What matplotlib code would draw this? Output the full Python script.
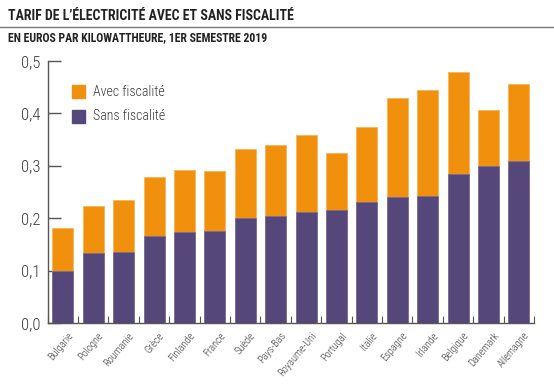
import numpy as np
import matplotlib
matplotlib.use("Agg")
import matplotlib.pyplot as plt
from matplotlib.patches import Rectangle
from matplotlib.lines import Line2D
from matplotlib import font_manager

# Data
pays = ["Bulgarie", "Pologne", "Roumanie", "Grèce", "Finlande", "France", "Suède",
        "Pays-Bas", "Royaume-Uni", "Portugal", "Italie", "Espagne", "Irlande",
        "Belgique", "Danemark", "Allemagne"]
avec_fiscalite = [0.182, 0.223, 0.235, 0.279, 0.291, 0.289, 0.331, 0.340, 0.358,
                  0.325, 0.373, 0.430, 0.445, 0.479, 0.407, 0.456]
sans_fiscalite = [0.100, 0.134, 0.136, 0.166, 0.173, 0.176, 0.201, 0.205, 0.212,
                  0.215, 0.230, 0.241, 0.243, 0.284, 0.299, 0.309]
yticks = [0.0, 0.1, 0.2, 0.3, 0.4, 0.5]

orange = "#F0900C"
violet = "#55477A"
grey = "#3a3a3a"

# a condensed face, as close to the original as what is installed
names = {f.name for f in font_manager.fontManager.ttflist}
candidates = ["Roboto Condensed", "Barlow Semi Condensed", "Fira Sans Condensed",
              "Encode Sans Condensed", "Liberation Sans Narrow", "Archivo Narrow",
              "PT Sans Narrow", "Open Sans Condensed", "DejaVu Sans"]
narrow = next(c for c in candidates if c in names)

fig = plt.figure(figsize=(5.54, 3.85), dpi=100)
ax = fig.add_axes([0.086, 0.161, 0.878, 0.681])

x = np.arange(len(pays))
ax.bar(x, avec_fiscalite, width=0.69, color=orange, edgecolor="#F6B45A", linewidth=0.6, zorder=2)
ax.bar(x, sans_fiscalite, width=0.69, color=violet, edgecolor="#7A6E98", linewidth=0.6, zorder=3)

ax.set_xlim(-0.5, len(pays) - 0.5)
ax.set_ylim(0, 0.5)
for s in ["top", "right"]:
    ax.spines[s].set_visible(False)
for s in ["left", "bottom"]:
    ax.spines[s].set_color("#555555")
    ax.spines[s].set_linewidth(1.0)

ax.set_yticks(yticks)
ax.set_yticklabels([f"{v:.1f}".replace(".", ",") for v in yticks],
                   fontsize=12, color=grey, family=narrow, weight="light")
ax.tick_params(axis="y", direction="in", length=9, width=1, color="#555555", pad=5)

ax.set_xticks(np.arange(len(pays) + 1) - 0.5)
ax.set_xticklabels([])
ax.tick_params(axis="x", direction="in", length=5, width=0.8, color="#555555")
for xi, name in zip(x, pays):
    ax.text(xi + 0.15, -0.014, name, rotation=50, ha="right", va="top",
            rotation_mode="anchor", fontsize=7.5, color=grey, family=narrow,
            weight="light", transform=ax.transData, clip_on=False)

# Legend
fig.patches.append(Rectangle((72 / 554, 1 - 98 / 385), 13 / 554, 13 / 385,
                             transform=fig.transFigure, color=orange))
fig.patches.append(Rectangle((72 / 554, 1 - 123 / 385), 13 / 554, 13 / 385,
                             transform=fig.transFigure, color=violet))
fig.text(93 / 554, 1 - 91.5 / 385, "Avec fiscalité", fontsize=10, color=grey,
         family=narrow, weight="light", va="center")
fig.text(93 / 554, 1 - 116.5 / 385, "Sans fiscalité", fontsize=10, color=grey,
         family=narrow, weight="light", va="center")

# Title block, widths fitted to the original
title = fig.text(8 / 554, 1 - 16 / 385, "TARIF DE L’ÉLECTRICITÉ AVEC ET SANS FISCALITÉ",
                 fontsize=12, color="#222222", family=narrow, weight="bold", va="center")
sub = fig.text(8 / 554, 1 - 38 / 385, "EN EUROS PAR KILOWATTHEURE, 1ER SEMESTRE 2019",
               fontsize=9, color="#222222", family=narrow, weight="bold", va="center")
fig.add_artist(Line2D([0, 1], [1 - 27 / 385, 1 - 27 / 385], transform=fig.transFigure,
                      color="#777777", linewidth=1))

renderer = fig.canvas.get_renderer()
for t, target in [(title, 287), (sub, 263)]:
    w = t.get_window_extent(renderer).width
    t.set_fontsize(min(t.get_fontsize() * target / w, 14))

fig.savefig("out.png", dpi=100)
